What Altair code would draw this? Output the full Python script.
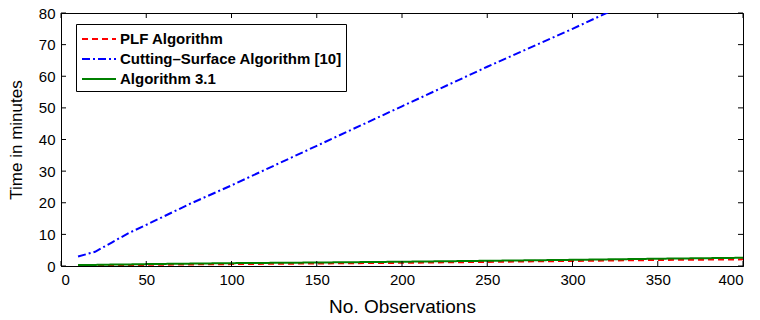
import altair as alt
import pandas as pd

# ---- data ----
x_obs = [10, 20, 30, 40, 50, 75, 100, 150, 200, 250, 300, 350, 400]
plf = [0.1, 0.15, 0.2, 0.3, 0.35, 0.5, 0.6, 0.8, 1.0, 1.3, 1.6, 1.9, 2.1]
cutting = [3.0, 4.5, 7.5, 10.5, 13.0, 19.5, 25.5, 38.0, 50.5, 63.0, 75.0, 87.5, 100.0]
alg31 = [0.3, 0.35, 0.45, 0.5, 0.6, 0.75, 0.9, 1.1, 1.35, 1.65, 1.95, 2.3, 2.6]

series_names = ["PLF Algorithm", "Cutting\u2013Surface Algorithm [10]", "Algorithm 3.1"]
series_colors = ["#ff0000", "#0000ff", "#008000"]
series_dash = [[6, 4], [8, 3, 2, 3], [1, 0]]
series_width = [2, 2, 3]

x_ticks = [0, 50, 100, 150, 200, 250, 300, 350, 400]
y_ticks = [0, 10, 20, 30, 40, 50, 60, 70, 80]

W, H = 682, 253
FONT = "Liberation Sans"

rows = []
for name, vals in zip(series_names, [plf, cutting, alg31]):
    for x, y in zip(x_obs, vals):
        rows.append({"obs": x, "time": y, "series": name})
df = pd.DataFrame(rows)

xscale = alt.Scale(domain=[0, 400], nice=False, zero=False)
yscale = alt.Scale(domain=[0, 80], nice=False)

x_axis = alt.Axis(values=x_ticks, title="No. Observations", ticks=False,
                  labelPadding=6, titlePadding=10, titleFontSize=19, grid=False)
y_axis = alt.Axis(values=y_ticks, title="Time in minutes", ticks=False,
                  labelPadding=6, titlePadding=13, titleFontSize=17, grid=False)

legend = alt.Legend(
    title=None,
    orient="none",
    legendX=15,
    legendY=11,
    symbolType="M-1.7,0H1.7",
    symbolSize=400,
    symbolOffset=8,
    labelFont=FONT,
    labelFontSize=15,
    labelFontWeight="bold",
    labelColor="black",
    labelOffset=10,
    labelLimit=0,
    padding=4,
    rowPadding=1,
    strokeColor="black",
    fillColor="white",
    cornerRadius=0,
)

lines = alt.Chart(df).mark_line(clip=True).encode(
    x=alt.X("obs:Q", scale=xscale, axis=x_axis),
    y=alt.Y("time:Q", scale=yscale, axis=y_axis),
    color=alt.Color("series:N", sort=series_names,
                    scale=alt.Scale(domain=series_names, range=series_colors),
                    legend=legend),
    strokeDash=alt.StrokeDash("series:N", sort=series_names,
                              scale=alt.Scale(domain=series_names, range=series_dash),
                              legend=legend),
    strokeWidth=alt.StrokeWidth("series:N", sort=series_names,
                                scale=alt.Scale(domain=series_names, range=series_width),
                                legend=legend),
)

xt = pd.DataFrame({"obs": x_ticks})
yt = pd.DataFrame({"time": y_ticks})
TL = 5
tick_b = alt.Chart(xt).mark_rule(color="black").encode(
    x=alt.X("obs:Q", scale=xscale, axis=x_axis), y=alt.value(H), y2=alt.value(H - TL))
tick_t = alt.Chart(xt).mark_rule(color="black").encode(
    x=alt.X("obs:Q", scale=xscale, axis=x_axis), y=alt.value(0), y2=alt.value(TL))
tick_l = alt.Chart(yt).mark_rule(color="black").encode(
    y=alt.Y("time:Q", scale=yscale, axis=y_axis), x=alt.value(0), x2=alt.value(TL))
tick_r = alt.Chart(yt).mark_rule(color="black").encode(
    y=alt.Y("time:Q", scale=yscale, axis=y_axis), x=alt.value(W), x2=alt.value(W - TL))

chart = alt.layer(lines, tick_b, tick_t, tick_l, tick_r).properties(
    width=W, height=H,
    background="white",
    autosize=alt.AutoSizeParams(type="none"),
    padding={"left": 53, "top": 5, "right": 9, "bottom": 54},
).configure_view(
    stroke="black", strokeWidth=1
).configure_axis(
    domainColor="black", labelColor="black", titleColor="black",
    labelFont=FONT, titleFont=FONT, labelFontSize=15,
    titleFontWeight="normal",
)

chart.save("out.html", embed_options={"renderer": "svg", "actions": False})
